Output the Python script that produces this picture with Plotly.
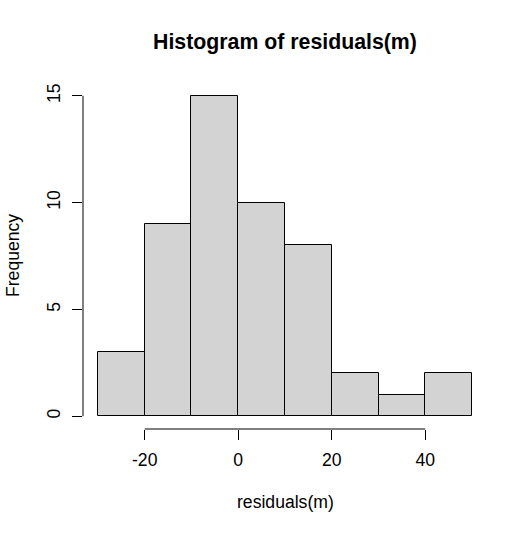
import plotly.graph_objects as go

bin_starts = [-30, -20, -10, 0, 10, 20, 30, 40]
bin_width = 10
counts = [3, 9, 15, 10, 8, 2, 1, 2]
x_ticks = [-20, 0, 20, 40]
x_tick_labels = ["-20", "0", "20", "40"]
y_ticks = [0, 5, 10, 15]
y_tick_labels = ["0", "5", "10", "15"]

centers = [s + bin_width / 2 for s in bin_starts]

FONT = "Liberation Sans, Arial, sans-serif"
LBL = 17.6

fig = go.Figure()
fig.add_trace(go.Bar(
    x=centers, y=counts, width=[bin_width] * len(counts),
    marker=dict(color="#D3D3D3", line=dict(color="black", width=1)),
    hoverinfo="x+y",
))

xmin, xmax = bin_starts[0], bin_starts[-1] + bin_width
xpad = 0.04 * (xmax - xmin)
ymax = max(counts)
ypad = 0.04 * ymax

fig.update_layout(
    width=529, height=533,
    margin=dict(l=83, r=42, t=83, b=104, pad=0),
    paper_bgcolor="white", plot_bgcolor="white",
    showlegend=False,
    bargap=0,
    font=dict(family=FONT, size=LBL, color="black"),
    xaxis=dict(range=[xmin - xpad, xmax + xpad], tickvals=x_ticks,
               ticktext=x_tick_labels,
               ticks="outside", ticklen=10, tickwidth=1, tickcolor="black",
               showgrid=False, zeroline=False, showline=False,
               ticklabelstandoff=5,
               tickfont=dict(family=FONT, size=LBL, color="black")),
    yaxis=dict(range=[-ypad, ymax + ypad], tickvals=y_ticks,
               ticktext=y_tick_labels,
               ticks="outside", ticklen=10, tickwidth=1, tickcolor="black",
               showgrid=False, zeroline=False, showline=False,
               tickangle=-90, ticklabelstandoff=5,
               tickfont=dict(family=FONT, size=LBL, color="black")),
    shapes=[
        dict(type="line", xref="x", yref="paper", x0=x_ticks[0], x1=x_ticks[-1],
             y0=0, y1=0, line=dict(color="black", width=1)),
        dict(type="line", xref="paper", yref="y", x0=0, x1=0,
             y0=y_ticks[0], y1=y_ticks[-1], line=dict(color="black", width=1)),
    ],
    annotations=[
        dict(text="<b>Histogram of residuals(m)</b>", xref="paper", yref="paper",
             x=0.5, y=1, yshift=41, xanchor="center", yanchor="middle",
             showarrow=False, font=dict(family=FONT, size=21.3, color="black")),
        dict(text="residuals(m)", xref="paper", yref="paper",
             x=0.5, y=0, yshift=-73, xanchor="center", yanchor="middle",
             showarrow=False, font=dict(family=FONT, size=LBL, color="black")),
        dict(text="Frequency", xref="paper", yref="paper",
             x=0, y=0.5, xshift=-70, xanchor="center", yanchor="middle",
             textangle=-90, showarrow=False,
             font=dict(family=FONT, size=LBL, color="black")),
    ],
)

fig.write_html("out.html", config={"displayModeBar": False},
               post_script="document.body.style.margin='0';document.body.style.padding='0';")
